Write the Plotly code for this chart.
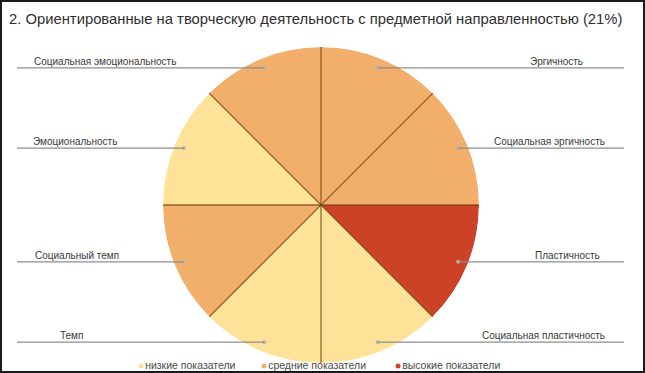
import math
import plotly.graph_objects as go

# ---- data ----
labels = ["Эргичность", "Социальная эргичность", "Пластичность", "Социальная пластичность",
          "Темп", "Социальный темп", "Эмоциональность", "Социальная эмоциональность"]
levels = ["средние", "средние", "высокие", "низкие", "низкие", "средние", "низкие", "средние"]
values = [1, 1, 1, 1, 1, 1, 1, 1]
level_names = ["низкие", "средние", "высокие"]
legend_labels = ["низкие показатели", "средние показатели", "высокие показатели"]
title_text = "2. Ориентированные на творческую деятельность с предметной направленностью (21%)"

# ---- style / layout ----
W, H = 645, 373
colors = {"низкие": "#FDE298", "средние": "#F2AE6B", "высокие": "#CB4226"}
CX, CY, R = 321, 205, 158          # pie centre / radius in pixels
DOT_R = 0.94                        # leader dot position (fraction of radius)
LEFT_END, RIGHT_END = 17, 624
label_x = {"Эргичность": 585, "Социальная эргичность": 607, "Пластичность": 602,
           "Социальная пластичность": 607, "Темп": 58, "Социальный темп": 33,
           "Эмоциональность": 31, "Социальная эмоциональность": 32}
legend_dot_x = [141, 264, 398]
LEGEND_Y = 366
font_family = "Liberation Sans, Arial, sans-serif"

total = sum(values)
widths = [360.0 * v / total for v in values]
starts, acc = [], 0.0
for w in widths:
    starts.append(acc)
    acc += w
mids = [s + w / 2 for s, w in zip(starts, widths)]

fig = go.Figure()

for lvl in level_names:
    idx = [i for i, l in enumerate(levels) if l == lvl]
    fig.add_trace(go.Barpolar(
        r=[1] * len(idx), theta=[mids[i] for i in idx], width=[widths[i] for i in idx],
        marker=dict(color=colors[lvl], line=dict(width=0)),
        showlegend=False, hoverinfo="skip", subplot="polar"))

# leader dots
fig.add_trace(go.Scatterpolar(
    r=[DOT_R] * len(labels), theta=mids, mode="markers",
    marker=dict(size=4, color="#BDB3A8"), showlegend=False, hoverinfo="skip", subplot="polar"))

# legend (dots + text)
fig.add_trace(go.Scatter(
    x=legend_dot_x, y=[LEGEND_Y] * 3, mode="markers+text", text=legend_labels,
    textposition="middle right",
    textfont=dict(size=10.5, color="#4A4A4A", family=font_family),
    marker=dict(size=5, color=[colors[l] for l in level_names]),
    showlegend=False, hoverinfo="skip", cliponaxis=False))

shapes, annotations = [], []
# slice separators (centre -> rim at each slice boundary)
for s in starts:
    a = math.radians(s)
    shapes.append(dict(type="line", xref="x", yref="y", x0=CX, y0=CY,
                       x1=CX + R * math.sin(a), y1=CY - R * math.cos(a),
                       line=dict(color="rgba(110,62,12,0.72)", width=1.3), layer="above"))

for lab, m in zip(labels, mids):
    a = math.radians(m)
    px = CX + DOT_R * R * math.sin(a)
    py = CY - DOT_R * R * math.cos(a)
    right = math.sin(a) > 0
    end = RIGHT_END if right else LEFT_END
    shapes.append(dict(type="line", xref="x", yref="y", x0=px, y0=py, x1=end, y1=py,
                       line=dict(color="#8E8E8E", width=1.2), layer="above"))
    annotations.append(dict(xref="x", yref="y", x=label_x[lab], y=py + 1, text=lab,
                            showarrow=False, xanchor="right" if right else "left",
                            yanchor="bottom", font=dict(size=10, color="#3A3A3A", family=font_family)))

shapes.append(dict(type="rect", xref="paper", yref="paper", x0=1 / W, y0=1 / H, x1=1 - 1 / W, y1=1 - 1 / H,
                   line=dict(color="#1A1A1A", width=2), layer="above"))

fig.update_layout(
    width=W, height=H, margin=dict(l=0, r=0, t=0, b=0),
    paper_bgcolor="white", plot_bgcolor="rgba(0,0,0,0)",
    font=dict(family=font_family),
    title=dict(text=title_text, x=9 / W, xanchor="left", y=1 - 19 / H, yanchor="middle",
               xref="paper", yref="paper", font=dict(size=14.8, color="#2F2F2F", family=font_family)),
    xaxis=dict(range=[0, W], visible=False, domain=[0, 1], fixedrange=True),
    yaxis=dict(range=[H, 0], visible=False, domain=[0, 1], fixedrange=True),
    polar=dict(
        domain=dict(x=[(CX - R) / W, (CX + R) / W], y=[(H - CY - R) / H, (H - CY + R) / H]),
        bgcolor="rgba(0,0,0,0)", bargap=0,
        radialaxis=dict(range=[0, 1], visible=False),
        angularaxis=dict(direction="clockwise", rotation=90, visible=False),
    ),
    showlegend=False,
    shapes=shapes, annotations=annotations,
)

fig.write_html("out.html", config={"displayModeBar": False, "staticPlot": True},
               post_script="document.body.style.margin='0';document.body.style.overflow='hidden';")
